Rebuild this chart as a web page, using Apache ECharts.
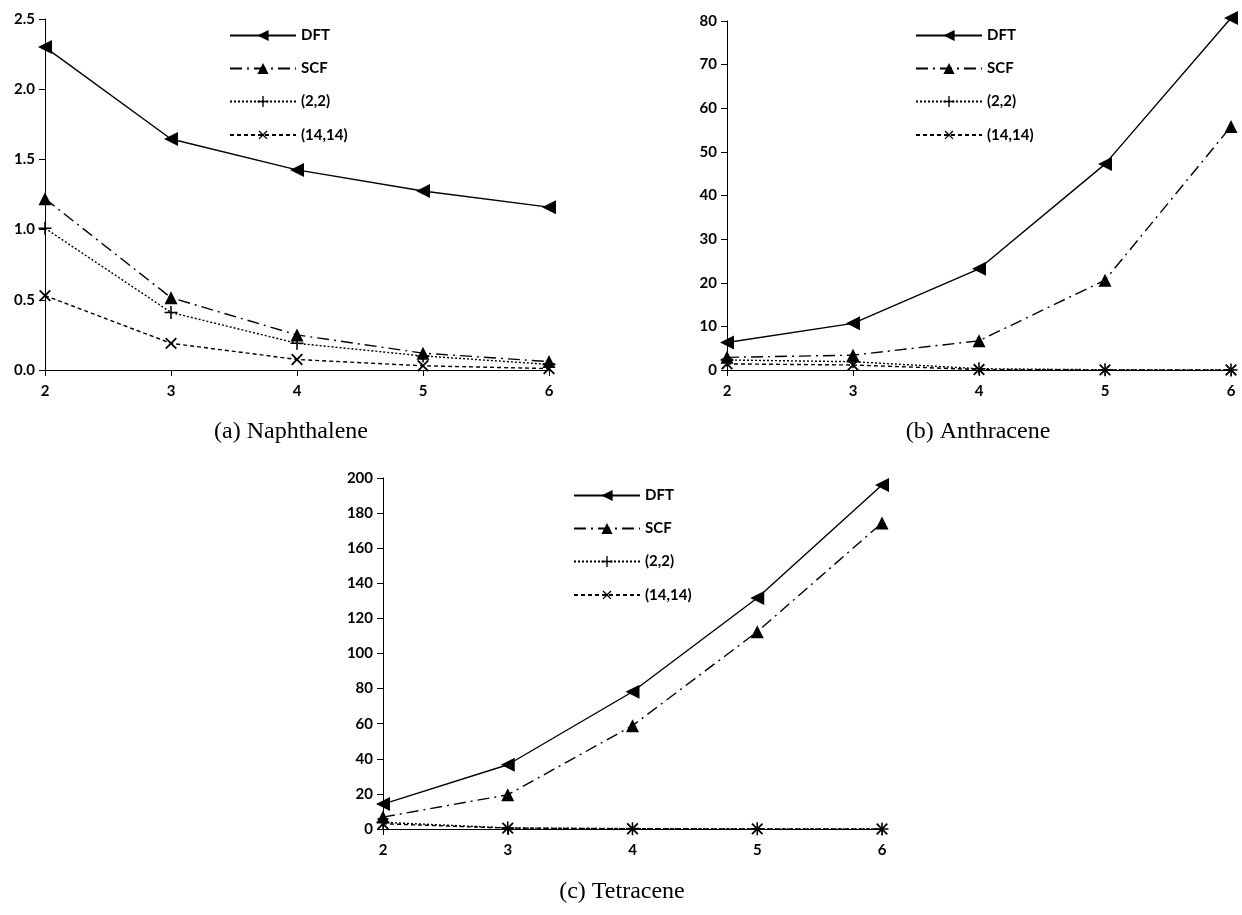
<!DOCTYPE html>
<html>
<head>
<meta charset="utf-8">
<script src="https://cdn.jsdelivr.net/npm/echarts@6/dist/echarts.min.js"></script>
<style>
  html, body { margin: 0; padding: 0; background: #fff; }
  #chart { width: 1242px; height: 915px; }
</style>
</head>
<body>
<div id="chart"></div>
<script>
// x values shared by all three panels
const xs = [2, 3, 4, 5, 6];

// (a) Naphthalene
const naphDFT = [2.30, 1.645, 1.425, 1.275, 1.16];
const naphSCF = [1.22, 0.515, 0.25, 0.12, 0.06];
const naph22 = [1.01, 0.41, 0.19, 0.10, 0.04];
const naph1414 = [0.53, 0.19, 0.075, 0.03, 0.01];

// (b) Anthracene
const anthDFT = [6.3, 10.7, 23.2, 47.2, 80.7];
const anthSCF = [2.9, 3.4, 6.7, 20.6, 55.8];
const anth22 = [2.3, 1.9, 0.3, 0.05, 0.02];
const anth1414 = [1.4, 1.15, 0.1, 0.02, 0.01];

// (c) Tetracene
const tetDFT = [14.2, 36.6, 78.2, 131.6, 196];
const tetSCF = [6.8, 19.5, 58.9, 112.4, 174.4];
const tet22 = [3.8, 0.6, 0.2, 0.1, 0.05];
const tet1414 = [3.0, 0.5, 0.15, 0.05, 0.02];

const names = ["DFT", "SCF", "(2,2)", "(14,14)"];
const captions = ["(a) Naphthalene", "(b) Anthracene", "(c) Tetracene"];

const labelFont = { fontFamily: "Lato", fontWeight: "bold", fontSize: 15, color: "#000" };

const plusPath = "path://M0,4.4H10V5.6H0Z M4.4,0H5.6V10H4.4Z";

const styles = [
  { symbol: "triangle", symbolRotate: 90, symbolSize: 14, type: "solid" },
  { symbol: "triangle", symbolRotate: 0, symbolSize: 13, type: [12, 5, 2, 5] },
  { symbol: plusPath, symbolRotate: 0, symbolSize: 13, type: [2, 2] },
  { symbol: plusPath, symbolRotate: 45, symbolSize: 15, type: [4, 3] }
];

const panels = [
  { data: [naphDFT, naphSCF, naph22, naph1414], max: 2.5, interval: 0.5, digits: 1 },
  { data: [anthDFT, anthSCF, anth22, anth1414], max: 80, interval: 10, digits: 0 },
  { data: [tetDFT, tetSCF, tet22, tet1414], max: 200, interval: 20, digits: 0 }
];

const grids = [
  { left: 45, right: 693, top: 19, bottom: 545 },
  { left: 727, right: 11, top: 21, bottom: 545 },
  { left: 383, right: 360, top: 478, bottom: 86 }
];

const legendPos = [
  { left: 229, top: 28 },
  { left: 915, top: 28 },
  { left: 573, top: 488 }
];

const captionPos = [
  { left: 291, top: 420 },
  { left: 978, top: 420 },
  { left: 622, top: 880 }
];

const series = [];
panels.forEach((p, gi) => {
  p.data.forEach((vals, si) => {
    const s = styles[si];
    series.push({
      name: names[si],
      type: "line",
      xAxisIndex: gi,
      yAxisIndex: gi,
      data: xs.map((x, i) => [x, vals[i]]),
      symbol: s.symbol,
      symbolRotate: s.symbolRotate,
      symbolSize: s.symbolSize,
      showAllSymbol: true,
      clip: false,
      z: 10 - si,
      lineStyle: { color: "#000", width: 1.4, type: s.type },
      itemStyle: { color: "#000", borderWidth: 0 },
      emphasis: { disabled: true },
      animation: false
    });
  });
});

const chart = echarts.init(document.getElementById("chart"));

chart.setOption({
  backgroundColor: "#fff",
  animation: false,
  title: captions.map((c, i) => ({
    text: c,
    left: captionPos[i].left,
    top: captionPos[i].top,
    textAlign: "center",
    padding: 0,
    textStyle: { fontFamily: "Liberation Serif", fontWeight: "normal", fontSize: 24, color: "#000" }
  })),
  legend: legendPos.map(pos => ({
    data: names,
    orient: "vertical",
    left: pos.left,
    top: pos.top,
    padding: 0,
    itemWidth: 66,
    itemHeight: 14,
    itemGap: 18,
    textStyle: { fontFamily: "Lato", fontWeight: "bold", fontSize: 15, color: "#000" },
    selectedMode: false
  })),
  grid: grids,
  xAxis: grids.map((g, i) => ({
    type: "value",
    gridIndex: i,
    min: 2,
    max: 6,
    interval: 1,
    splitLine: { show: false },
    axisLine: { lineStyle: { color: "#000", width: 1 } },
    axisTick: { show: true, length: 6, lineStyle: { color: "#000" } },
    axisLabel: Object.assign({ margin: 14 }, labelFont)
  })),
  yAxis: panels.map((p, i) => ({
    type: "value",
    gridIndex: i,
    min: 0,
    max: p.max,
    interval: p.interval,
    splitLine: { show: false },
    axisLine: { show: true, lineStyle: { color: "#000", width: 1 } },
    axisTick: { show: true, length: 6, lineStyle: { color: "#000" } },
    axisLabel: Object.assign({
      margin: 10,
      formatter: v => v.toFixed(p.digits)
    }, labelFont)
  })),
  series: series
});
</script>
</body>
</html>
